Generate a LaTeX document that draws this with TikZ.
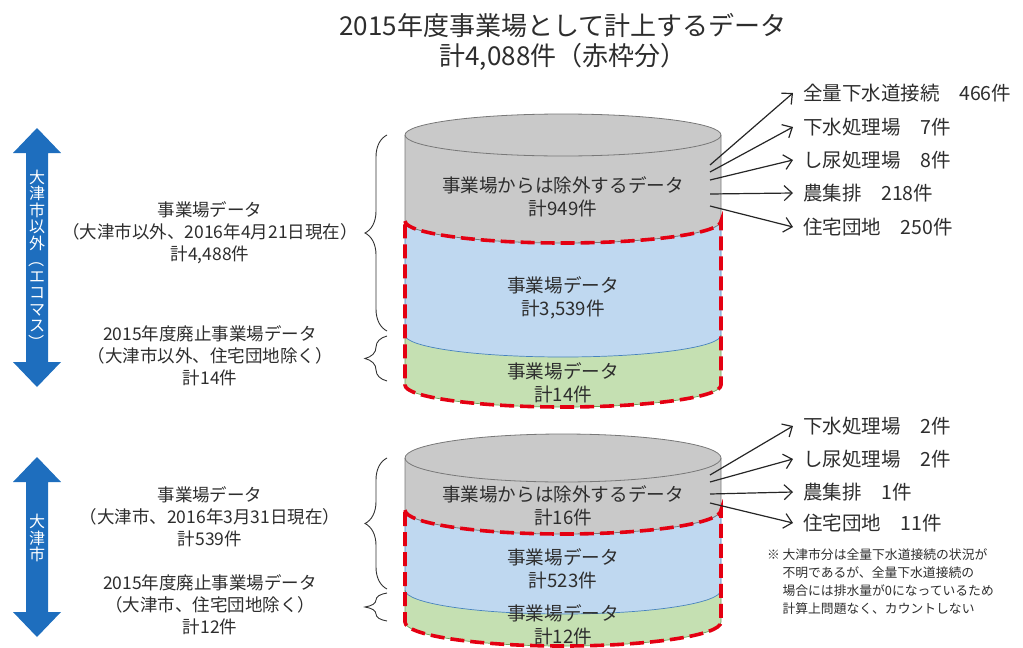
\documentclass[tikz,border=0pt]{standalone}
\usepackage{fontspec}
\setmainfont{Noto Sans CJK JP}
\usepackage{graphicx}
\usetikzlibrary{arrows.meta,decorations.pathreplacing}
\definecolor{txtc}{RGB}{45,45,45}
\definecolor{abl}{RGB}{30,110,190}
\definecolor{cgray}{RGB}{201,201,201}
\definecolor{cgrayd}{RGB}{120,120,120}
\definecolor{cblue}{RGB}{191,216,240}
\definecolor{cbluel}{RGB}{70,130,190}
\definecolor{cgreen}{RGB}{197,224,178}
\definecolor{cgreend}{RGB}{110,160,90}
\definecolor{cred}{RGB}{228,0,18}
\newcommand{\vparo}{\rotatebox[origin=c]{-90}{（}}
\newcommand{\vparc}{\rotatebox[origin=c]{-90}{）}}
\begin{document}
\begin{tikzpicture}[x=1pt,y=-1pt,
  title/.style={font=\fontsize{26}{30}\selectfont,text=txtc,align=center,inner sep=0},
  ctxt/.style={font=\fontsize{18.6}{23.5}\selectfont,text=txtc,align=center,inner sep=0},
  stxt/.style={font=\fontsize{17.5}{22}\selectfont,text=txtc,align=center,inner sep=0},
  lbl/.style={font=\fontsize{19.5}{23}\selectfont,text=txtc,anchor=west,inner sep=0},
  vtxt/.style={font=\fontsize{16}{16.5}\selectfont,text=white,align=center,inner sep=0},
  note/.style={font=\fontsize{12.8}{18}\selectfont,text=txtc,align=left,anchor=north west,inner sep=0},
  outarrow/.style={draw=black!85,line width=1.2pt,-{Straight Barb[length=8pt,width=15pt]}},
  bracestyle/.style={draw=black!80,line width=0.9pt,decorate,decoration={brace,amplitude=22pt}},
  reddash/.style={draw=cred,line width=3.6pt,dash pattern=on 14pt off 6pt},
  er/.style={x radius=158,y radius=22},
  er2/.style={x radius=158,y radius=24}]
\useasboundingbox (0,0) rectangle (1023,648);

% title
\node[title] (title) at (563,42) {2015年度事業場として計上するデータ\\計4,088件（赤枠分）};

% ---------- cylinder 1 ----------
\fill[cgray] (405,135) -- (405,221) arc[start angle=180,end angle=0,er] -- (721,135) -- cycle;
\fill[cblue] (405,221) arc[start angle=180,end angle=0,er] -- (721,335) arc[start angle=0,end angle=180,er] -- cycle;
\fill[cgreen] (405,335) arc[start angle=180,end angle=0,er] -- (721,385) arc[start angle=0,end angle=180,er] -- cycle;
\filldraw[fill=cgray,draw=cgrayd,line width=0.8pt] (563,135) ellipse[x radius=158,y radius=21];
\draw[cgrayd,line width=0.8pt] (405,135) -- (405,221) arc[start angle=180,end angle=0,er] -- (721,135);
\draw[cbluel,line width=0.7pt] (405,221) -- (405,335) arc[start angle=180,end angle=0,er] -- (721,221);
\draw[cgreend,line width=0.7pt] (405,335) -- (405,385) arc[start angle=180,end angle=0,er] -- (721,335);
\draw[reddash] (405,221) arc[start angle=180,end angle=0,er] -- (721,385) arc[start angle=0,end angle=180,er] -- cycle;

\node[ctxt] (c1g) at (563,197) {事業場からは除外するデータ\\計949件};
\node[ctxt] (c1b) at (563,298) {事業場データ\\計3,539件};
\node[ctxt] (c1n) at (563,383) {事業場データ\\計14件};

% ---------- cylinder 2 ----------
\fill[cgray] (405,458) -- (405,510) arc[start angle=180,end angle=0,er2] -- (721,458) -- cycle;
\fill[cblue] (405,510) arc[start angle=180,end angle=0,er2] -- (721,590) arc[start angle=0,end angle=180,er2] -- cycle;
\fill[cgreen] (405,590) arc[start angle=180,end angle=0,er2] -- (721,622) arc[start angle=0,end angle=180,er2] -- cycle;
\filldraw[fill=cgray,draw=cgrayd,line width=0.8pt] (563,458) ellipse[x radius=158,y radius=24];
\draw[cgrayd,line width=0.8pt] (405,458) -- (405,510) arc[start angle=180,end angle=0,er2] -- (721,458);
\draw[cbluel,line width=0.7pt] (405,510) -- (405,590) arc[start angle=180,end angle=0,er2] -- (721,510);
\draw[cgreend,line width=0.7pt] (405,590) -- (405,622) arc[start angle=180,end angle=0,er2] -- (721,590);
\draw[reddash] (405,510) arc[start angle=180,end angle=0,er2] -- (721,622) arc[start angle=0,end angle=180,er2] -- cycle;

\node[ctxt] (c2g) at (563,506) {事業場からは除外するデータ\\計16件};
\node[ctxt] (c2b) at (563,569) {事業場データ\\計523件};
\node[ctxt] (c2n) at (563,625) {事業場データ\\計12件};

% ---------- right labels top ----------
\node[lbl] (t1) at (803,93) {全量下水道接続　466件};
\node[lbl] (t2) at (803,127) {下水処理場　7件};
\node[lbl] (t3) at (803,160) {し尿処理場　8件};
\node[lbl] (t4) at (803,193) {農集排　218件};
\node[lbl] (t5) at (803,227) {住宅団地　250件};
\coordinate (s1) at (710,165);
\coordinate (s2) at (710,172);
\coordinate (s3) at (710,180);
\coordinate (s4) at (710,194);
\coordinate (s5) at (710,206);
\foreach \i in {1,...,5} {\draw[outarrow] (s\i) -- ([xshift=-10pt]t\i.west);}

% ---------- right labels bottom ----------
\node[lbl] (b1) at (803,426) {下水処理場　2件};
\node[lbl] (b2) at (803,459) {し尿処理場　2件};
\node[lbl] (b3) at (803,492) {農集排　1件};
\node[lbl] (b4) at (803,523) {住宅団地　11件};
\coordinate (u1) at (710,475);
\coordinate (u2) at (710,482);
\coordinate (u3) at (710,494);
\coordinate (u4) at (710,503);
\foreach \i in {1,...,4} {\draw[outarrow] (u\i) -- ([xshift=-10pt]b\i.west);}

\node[note] (nt) at (767,548) {\makebox[1.2em][l]{※}大津市分は全量下水道接続の状況が\\
\hspace*{1.2em}不明であるが、全量下水道接続の\\
\hspace*{1.2em}場合には排水量が0になっているため\\
\hspace*{1.2em}計算上問題なく、カウントしない};

% ---------- braces ----------
\draw[bracestyle] (387,331) -- (387,135);
\draw[bracestyle] (387,381) -- (387,336);
\draw[bracestyle] (387,589) -- (387,458);
\draw[bracestyle] (387,621) -- (387,593);

% ---------- left texts ----------
\node[stxt] (l1) at (210,233) {事業場データ\\（大津市以外、2016年4月21日現在）\\計4,488件};
\node[stxt] (l2) at (210,356) {2015年度廃止事業場データ\\（大津市以外、住宅団地除く）\\計14件};
\node[stxt] (l3) at (210,517) {事業場データ\\（大津市、2016年3月31日現在）\\計539件};
\node[stxt] (l4) at (210,605) {2015年度廃止事業場データ\\（大津市、住宅団地除く）\\計12件};

% ---------- blue double arrows ----------
\fill[abl] (37,128) -- (61,153) -- (48,153) -- (48,362) -- (61,362) -- (37,387) -- (13,362) -- (26,362) -- (26,153) -- (13,153) -- cycle;
\node[vtxt] (v1) at (37,260) {大\\津\\市\\以\\外\\\vparo\\エ\\コ\\マ\\ス\\\vparc};
\fill[abl] (37,457) -- (61,482) -- (48,482) -- (48,612) -- (61,612) -- (37,637) -- (13,612) -- (26,612) -- (26,482) -- (13,482) -- cycle;
\node[vtxt] (v2) at (37,538) {大\\津\\市};
\end{tikzpicture}
\end{document}
